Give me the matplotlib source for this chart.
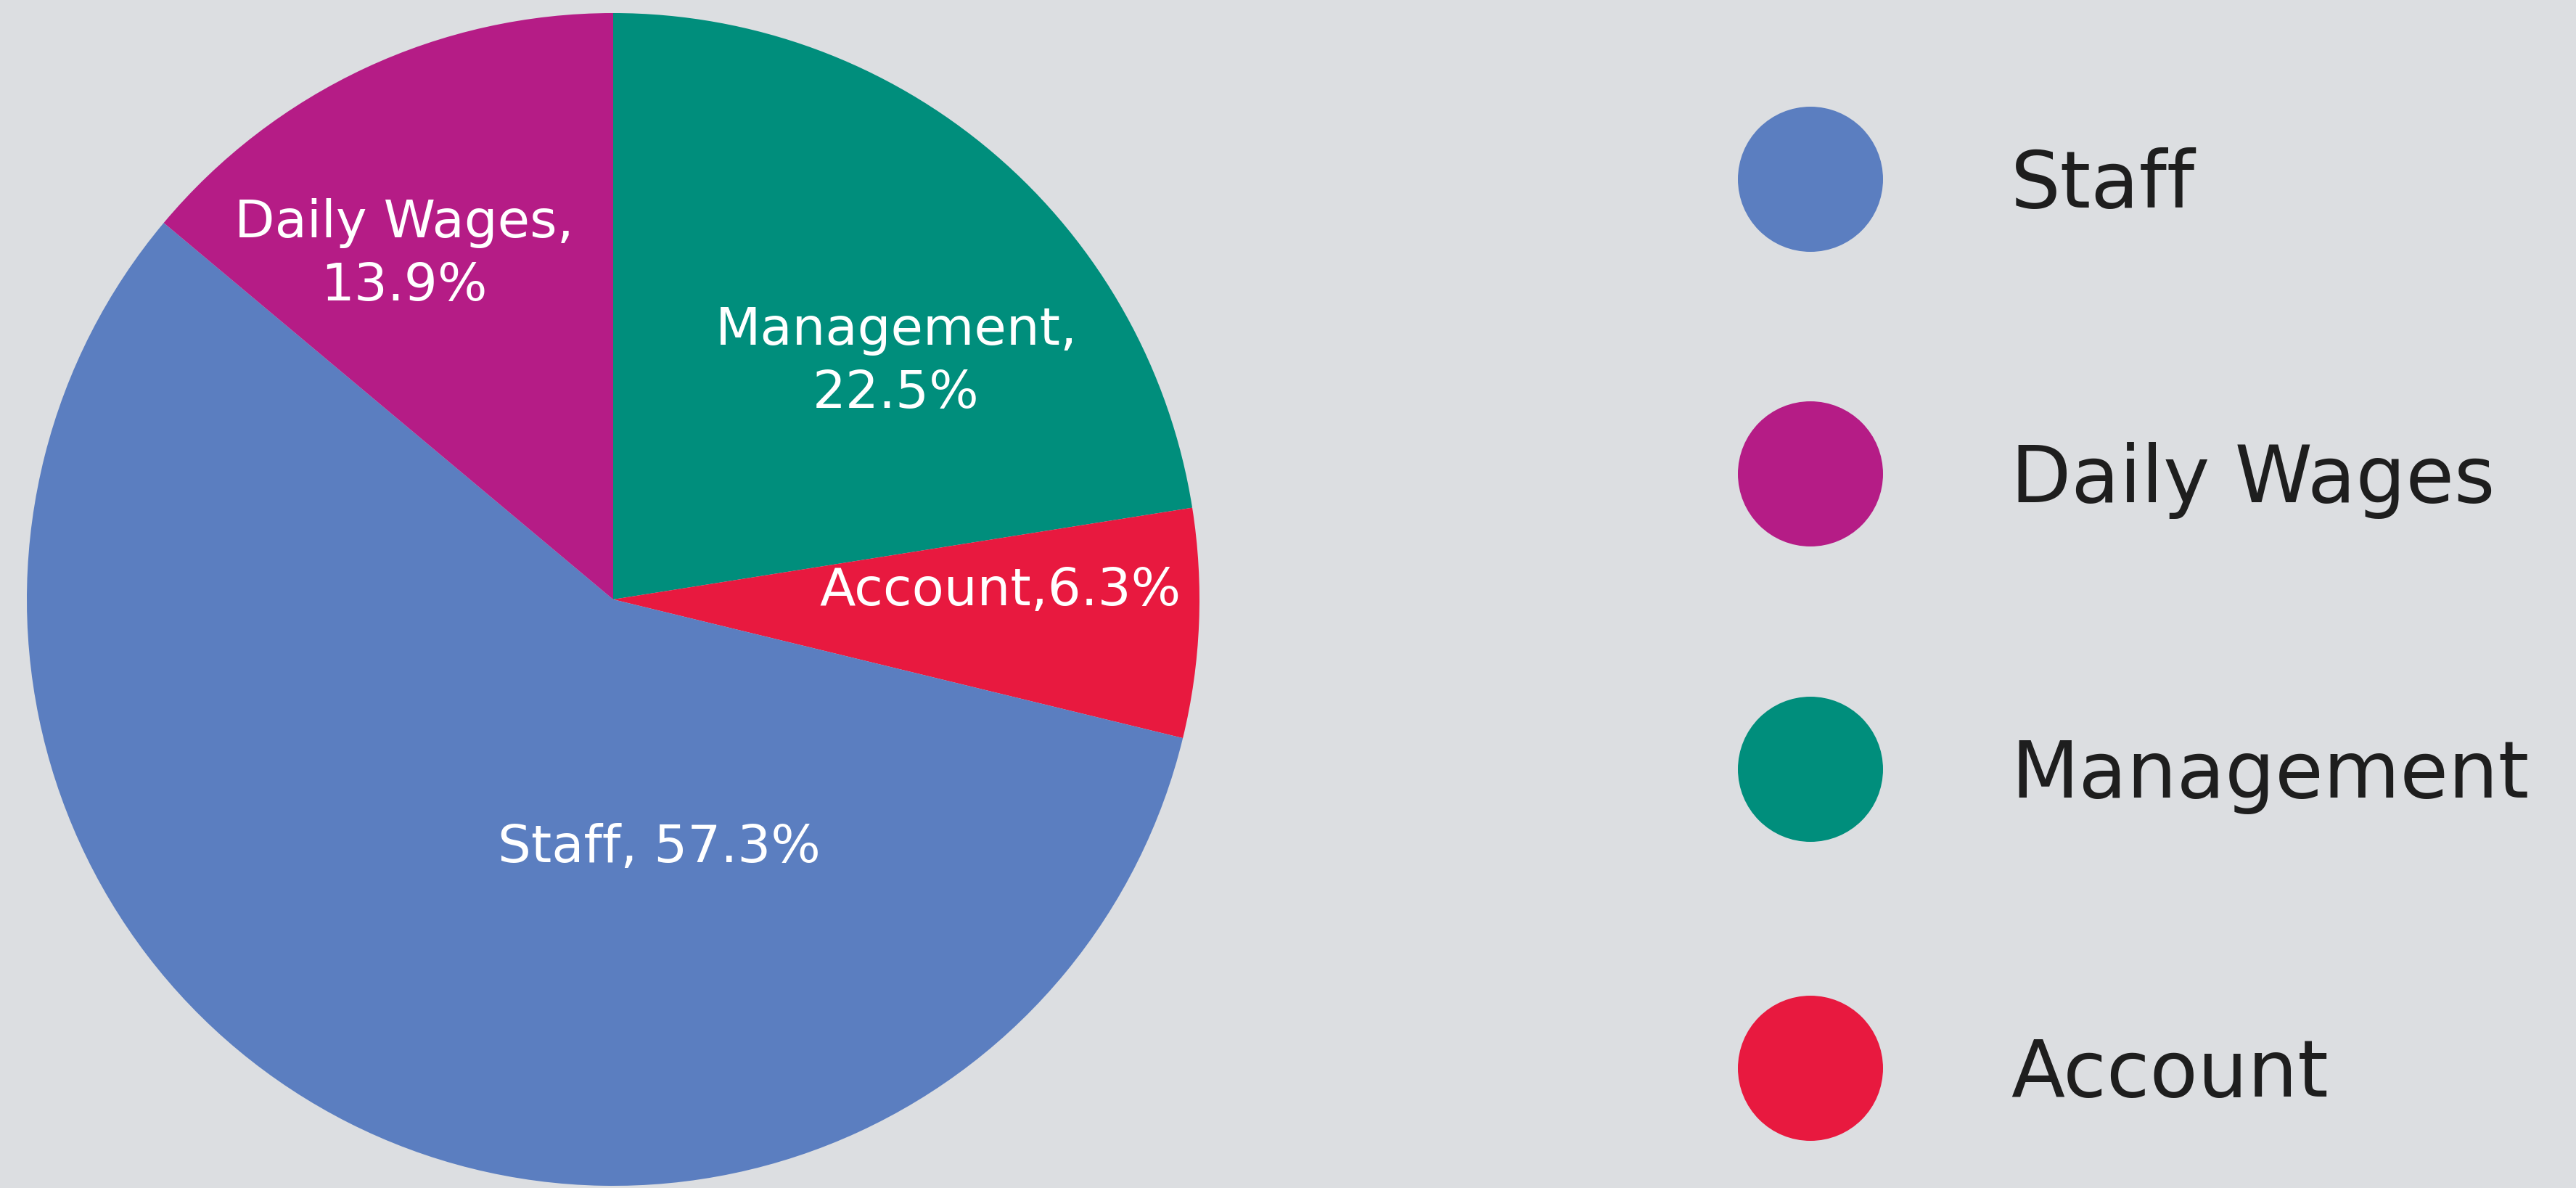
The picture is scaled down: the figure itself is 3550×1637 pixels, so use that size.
import matplotlib
matplotlib.use("Agg")
import matplotlib.pyplot as plt
from matplotlib.patches import Circle

# ---- data ----
categories = ["Management", "Account", "Staff", "Daily Wages"]   # clockwise from 12 o'clock
values = [22.5, 6.3, 57.3, 13.9]
slice_labels = ["Management,\n22.5%", "Account,6.3%", "Staff, 57.3%", "Daily Wages,\n13.9%"]
legend_order = ["Staff", "Daily Wages", "Management", "Account"]

# ---- style ----
colors = {"Staff": "#5B7EC0", "Daily Wages": "#B51C86",
          "Management": "#008E7C", "Account": "#E8193F"}
bg = "#DCDEE1"
W, H = 3550, 1637
font = "DejaVu Sans"

fig = plt.figure(figsize=(W / 100, H / 100), dpi=100, facecolor=bg)
ax = fig.add_axes([0, 0, 1, 1])
ax.set_xlim(0, W)
ax.set_ylim(0, H)
ax.set_aspect("equal")
ax.axis("off")
ax.set_facecolor(bg)

cx, cy, r = 845, H - 826, 808
ax.pie(values, colors=[colors[c] for c in categories], startangle=90,
       counterclock=False, center=(cx, cy), radius=r, frame=True,
       wedgeprops=dict(linewidth=0))
ax.set_xlim(0, W)
ax.set_ylim(0, H)
ax.axis("off")

# label offsets from pie centre (pixels, y up)
label_offsets = [(390, 327), (534, 11), (63, -342), (-288, 475)]
for lab, (dx, dy) in zip(slice_labels, label_offsets):
    ax.text(cx + dx, cy + dy, lab, ha="center", va="center", multialignment="center",
            color="white", fontsize=52, family=font, linespacing=1.35)

# legend
leg_y = [247, 653, 1060, 1472]
for name, y in zip(legend_order, leg_y):
    ax.add_patch(Circle((2495, H - y), 100, facecolor=colors[name], edgecolor="none"))
    ax.text(2771, H - y - 39, name, ha="left", va="baseline", color="#1E1E1E",
            fontsize=78, family=font)

fig.savefig("out.png", dpi=100, facecolor=bg)
